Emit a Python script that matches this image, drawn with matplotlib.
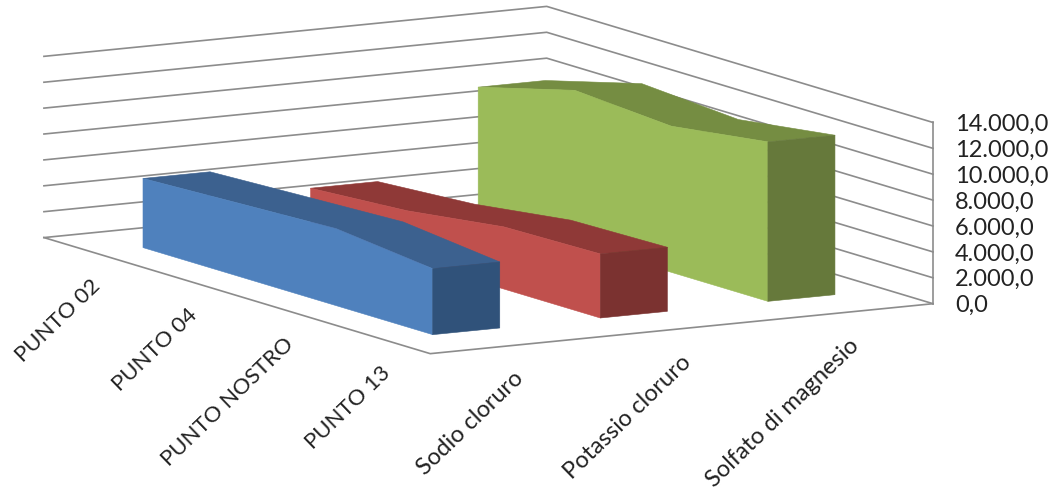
import numpy as np
import matplotlib
matplotlib.use('Agg')
import matplotlib.pyplot as plt
from mpl_toolkits.mplot3d import proj3d
from mpl_toolkits.mplot3d.art3d import Poly3DCollection

punti = ['PUNTO 02', 'PUNTO 04', 'PUNTO NOSTRO', 'PUNTO 13']
sali = ['Sodio cloruro', 'Potassio cloruro', 'Solfato di magnesio']
sodio = [5340, 5650, 5950, 5100]
potassio = [3300, 3800, 4800, 4950]
solfato = [9820, 11820, 11290, 12320]
z_ticks = [0, 2000, 4000, 6000, 8000, 10000, 12000, 14000]
z_labels = ['0,0', '2.000,0', '4.000,0', '6.000,0', '8.000,0', '10.000,0', '12.000,0', '14.000,0']

serie = [sodio, potassio, solfato]
# front, top, end cap
colori = [('#4F81BD', '#3C618F', '#30527A'),
          ('#C0504D', '#8F3937', '#7B3230'),
          ('#9BBB59', '#758D42', '#66793B')]
grid_col = '#8C8C8C'
text_col = '#222222'
half = 0.2

plt.rcParams['font.family'] = ['Lato', 'DejaVu Sans']

W, H = 1056, 492
fig = plt.figure(figsize=(W / 100, H / 100), dpi=100)
# square axes, larger than the figure, so that the box lands where the reference has it
ax = fig.add_axes([-2.7 / W, -179.2 / H, 956.5 / W, 956.5 / H], projection='3d', proj_type='ortho')
ax.computed_zorder = False
ax.set_box_aspect((775, 580, 184))
ax.view_init(elev=9.95, azim=-29.9)
ax.set_axis_off()

x0, x1 = -0.5, len(punti) - 0.5
y0, y1 = -0.5, len(sali) - 0.5
z0, z1 = z_ticks[0], z_ticks[-1]
ax.set_xlim(x0, x1)
ax.set_ylim(y0, y1)
ax.set_zlim(z0, z1)

# walls and floor
for z in z_ticks:
    ax.plot([x0, x0, x1], [y0, y1, y1], [z, z, z], color=grid_col, lw=1.2, zorder=1)
ax.plot([x0, x1, x1], [y0, y0, y1], [z0, z0, z0], color=grid_col, lw=1.2, zorder=1)
ax.plot([x1, x1], [y1, y1], [z0, z1], color=grid_col, lw=1.2, zorder=1)

# slabs, back series first
xs = np.arange(len(punti))
for i in range(len(serie) - 1, -1, -1):
    vals = serie[i]
    c_front, c_top, c_end = colori[i]
    y_a, y_b = i - half, i + half
    base = 10 * (len(serie) - i)

    top = [(x, y_a, v) for x, v in zip(xs, vals)] + [(x, y_b, v) for x, v in zip(xs[::-1], vals[::-1])]
    front = [(x, y_a, v) for x, v in zip(xs, vals)] + [(xs[-1], y_a, 0), (xs[0], y_a, 0)]
    end = [(xs[-1], y_a, vals[-1]), (xs[-1], y_b, vals[-1]), (xs[-1], y_b, 0), (xs[-1], y_a, 0)]

    for verts, col, dz in [(top, c_top, 0), (front, c_front, 1), (end, c_end, 2)]:
        poly = Poly3DCollection([verts], facecolors=col, edgecolors=col, linewidths=0.4)
        ax.add_collection3d(poly)
        poly.set_zorder(base + dz)


def etichetta(x, y, z, testo, dx, dy, size, **kw):
    # 3D point to 2D data, then a pixel offset
    px, py, _ = proj3d.proj_transform(x, y, z, ax.get_proj())
    ax.annotate(testo, xy=(px, py), xytext=(dx, dy), textcoords='offset pixels',
                annotation_clip=False, fontsize=size, color=text_col, zorder=50, **kw)


for z, lab in zip(z_ticks, z_labels):
    etichetta(x1, y1, z, lab, 22, -2, 17, ha='left', va='center')
for k, lab in enumerate(punti):
    etichetta(k, y0, z0, lab, 5, -31, 16, ha='right', va='center', rotation=44, rotation_mode='anchor')
for k, lab in enumerate(sali):
    etichetta(x1, k, z0, lab, 6, -30, 17, ha='right', va='center', rotation=44, rotation_mode='anchor')

fig.savefig('out.png', dpi=100)
